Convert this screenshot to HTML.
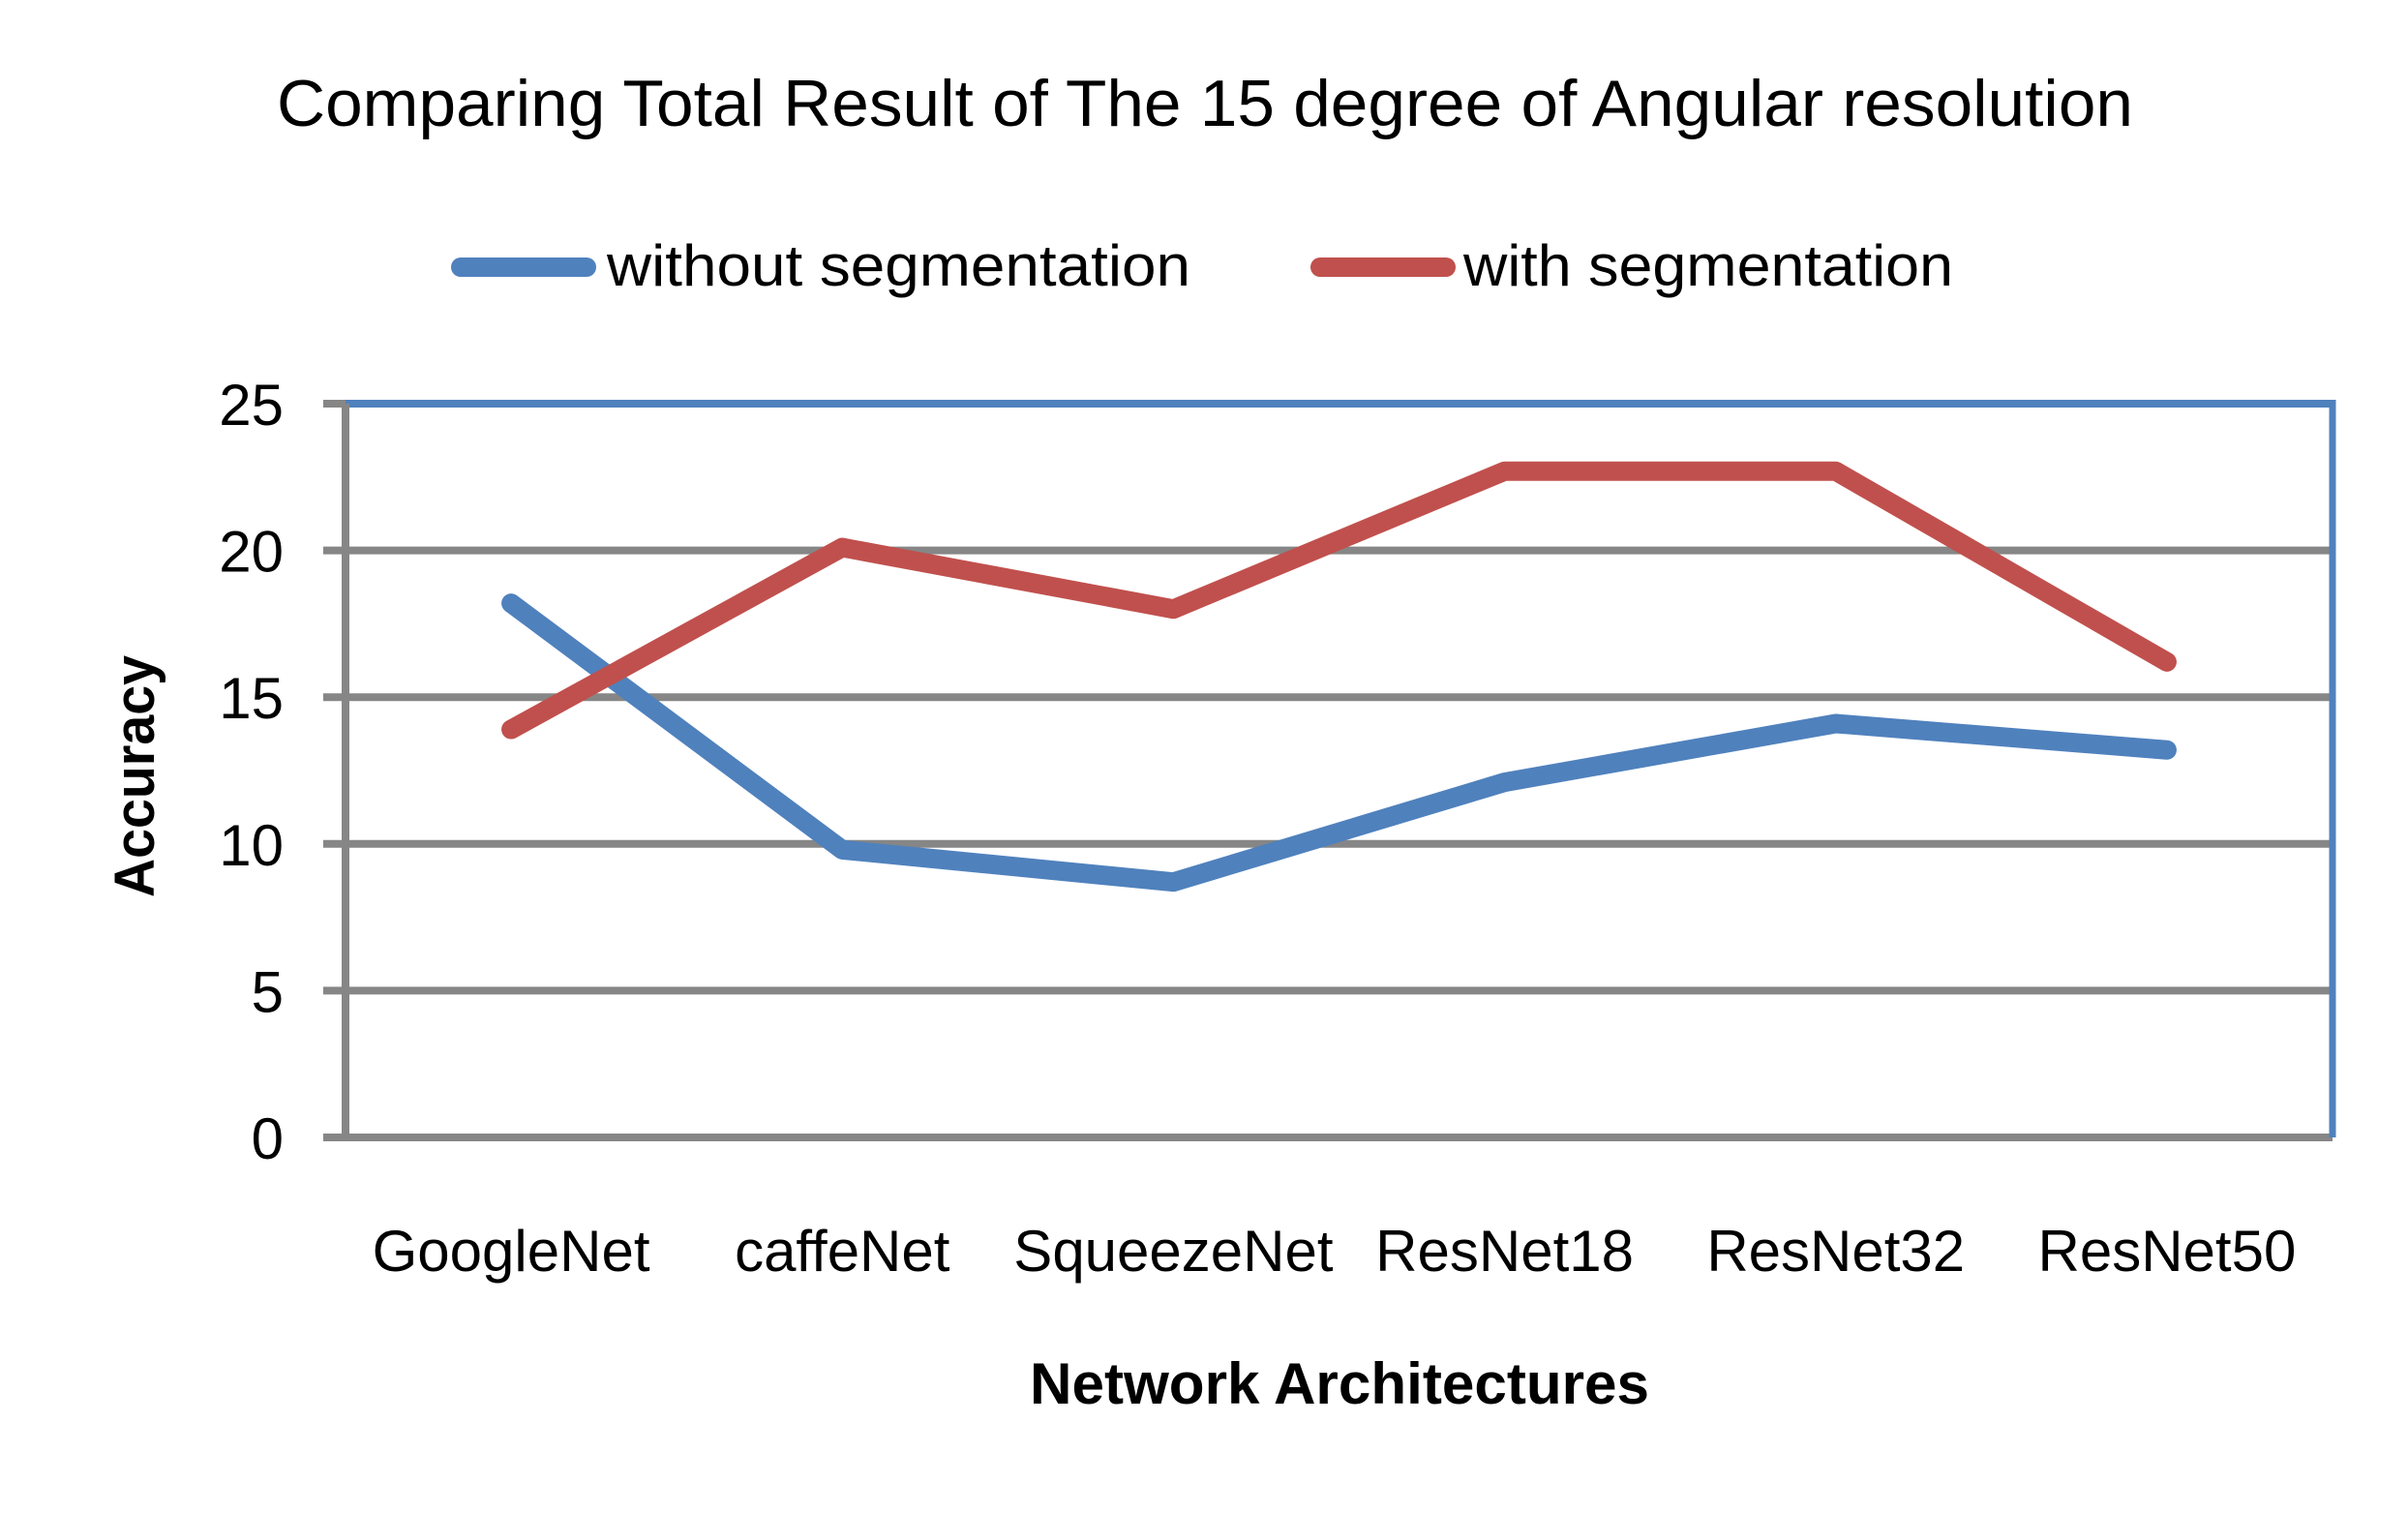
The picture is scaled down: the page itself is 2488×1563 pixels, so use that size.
<!DOCTYPE html>
<html><head><meta charset="utf-8"><style>html,body{margin:0;padding:0;background:#fff}svg{display:block}</style></head>
<body>
<svg id="chart" width="2488" height="1563" viewBox="0 0 2488 1563" xmlns="http://www.w3.org/2000/svg" font-family="Liberation Sans, sans-serif">
<rect width="2488" height="1563" fill="#fff"/>
<text x="286" y="130" font-size="68" textLength="1918" lengthAdjust="spacingAndGlyphs">Comparing Total Result of The 15 degree of Angular resolution</text>
<g>
<g>
<line x1="476" y1="276" x2="606" y2="276" stroke="#4f81bd" stroke-width="20" stroke-linecap="round"/>
<text x="627" y="295" font-size="60" textLength="603" lengthAdjust="spacingAndGlyphs">without segmentation</text></g>
<g>
<line x1="1364" y1="276" x2="1494" y2="276" stroke="#c0504d" stroke-width="20" stroke-linecap="round"/>
<text x="1512" y="295" font-size="60" textLength="506" lengthAdjust="spacingAndGlyphs">with segmentation</text></g>
</g>
<g id="grid"></g>
<g id="yt"></g>
<g id="xt"></g>
<g id="series"></g>
<text x="1384" y="1450" font-size="60" font-weight="bold" text-anchor="middle" textLength="640" lengthAdjust="spacingAndGlyphs">Network Architectures</text>
<text transform="translate(159,802) rotate(-90)" font-size="58" font-weight="bold" text-anchor="middle" textLength="250" lengthAdjust="spacingAndGlyphs">Accuracy</text>
</svg>
<script>
const categories=["GoogleNet","caffeNet","SqueezeNet","ResNet18","ResNet32","ResNet50"];
const withoutSeg=[18.2,9.8,8.7,12.1,14.1,13.2];
const withSeg=[13.9,20.1,18.0,22.7,22.7,16.2];
const yTicks=[0,5,10,15,20,25];
const NS="http://www.w3.org/2000/svg";
const L=357,R=2410,T=417,B=1175,yMax=25;
const y=v=>B-(v/yMax)*(B-T);
const x=i=>L+(i+0.5)*(R-L)/categories.length;
function mk(t,a,p){const e=document.createElementNS(NS,t);for(const k in a)e.setAttribute(k,a[k]);p.appendChild(e);return e;}
const g=document.getElementById('grid'),yt=document.getElementById('yt'),xt=document.getElementById('xt'),s=document.getElementById('series');
yTicks.forEach(v=>{
 const ln=mk('line',{x1:334,x2:R,y1:y(v),y2:y(v),stroke:v===yMax?'#4f81bd':'#868686','stroke-width':8},g);
 
 
 if(v===yMax){mk('line',{x1:334,x2:L,y1:y(v),y2:y(v),stroke:'#868686','stroke-width':8},g);}
 const t=mk('text',{x:293,y:y(v)+22,'font-size':60,'text-anchor':'end'},yt);
 
 
 t.textContent=v;
});
const ax=mk('line',{x1:L,x2:L,y1:T,y2:B+4,stroke:'#868686','stroke-width':8},g);


const rb=mk('line',{x1:R,x2:R,y1:T-4,y2:B,stroke:'#4f81bd','stroke-width':7},g);


categories.forEach((c,i)=>{
 const t=mk('text',{x:x(i),y:1313,'font-size':60,'text-anchor':'middle'},xt);
 
 
 t.textContent=c;
});
function line(data,color,name){
 const p=mk('polyline',{points:data.map((v,i)=>x(i)+','+y(v)).join(' '),fill:'none',stroke:color,'stroke-width':20,'stroke-linejoin':'round','stroke-linecap':'round'},s);
 
 
}
line(withoutSeg,'#4f81bd','line-without-segmentation');
line(withSeg,'#c0504d','line-with-segmentation');
</script>
</body></html>
